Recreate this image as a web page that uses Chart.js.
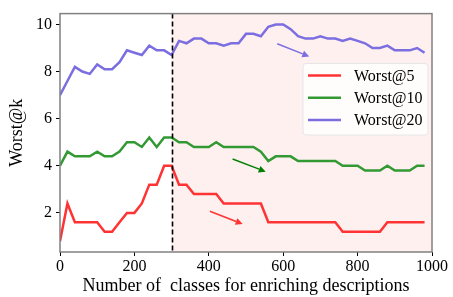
<!DOCTYPE html>
<html><head><meta charset="utf-8">
<script src="https://cdn.jsdelivr.net/npm/chart.js@4.4.0/dist/chart.umd.min.js"></script>
<style>html,body{margin:0;padding:0;background:#fff}#wrap{width:453px;height:297px}</style>
</head><body><div id="wrap"><canvas id="c" width="453" height="297"></canvas></div>
<script>
const xs = [0,20,40,60,80,100,120,140,160,180,200,220,240,260,280,300,320,340,360,380,400,420,440,460,480,500,520,540,560,580,600,620,640,660,680,700,720,740,760,780,800,820,840,860,880,900,920,940,960,980];
const worst5 = [0.8,2.4,1.6,1.6,1.6,1.6,1.2,1.2,1.6,2.0,2.0,2.4,3.2,3.2,4.0,4.0,3.2,3.2,2.8,2.8,2.8,2.8,2.4,2.4,2.4,2.4,2.4,2.4,1.6,1.6,1.6,1.6,1.6,1.6,1.6,1.6,1.6,1.6,1.2,1.2,1.2,1.2,1.2,1.2,1.6,1.6,1.6,1.6,1.6,1.6];
const worst10 = [4.0,4.6,4.4,4.4,4.4,4.6,4.4,4.4,4.6,5.0,5.0,4.8,5.2,4.8,5.2,5.2,5.0,5.0,4.8,4.8,4.8,5.0,4.8,4.8,4.8,4.8,4.8,4.6,4.2,4.4,4.4,4.4,4.2,4.2,4.2,4.2,4.2,4.2,4.0,4.0,4.0,3.8,3.8,3.8,4.0,3.8,3.8,3.8,4.0,4.0];
const worst20 = [7.0,7.6,8.2,8.0,7.9,8.3,8.1,8.1,8.4,8.9,8.8,8.7,9.1,8.9,8.9,8.7,9.3,9.2,9.4,9.4,9.2,9.2,9.1,9.2,9.2,9.6,9.6,9.5,9.9,10.0,10.0,9.8,9.5,9.4,9.4,9.5,9.4,9.4,9.3,9.4,9.3,9.2,9.0,9.0,9.1,8.9,8.9,8.9,9.0,8.8];
const seriesLabels = ['Worst@5','Worst@10','Worst@20'];
const seriesColors = ['#ff3333','#339933','#7b6ee0'];
const xTicks = [0,200,400,600,800,1000];
const xTickLabels = ['0','200','400','600','800','1000'];
const yTicks = [2,4,6,8,10];
const yTickLabels = ['2','4','6','8','10'];
const splitX = 300;
// arrows: [x0,y0,x1,y1] in data units
const arrows = [[403,2.07,491,1.53],[464,4.29,553,3.75],[584,9.18,670,8.64]];

const FONT = '"Liberation Serif", "Times New Roman", serif';
const allSeries = [worst5, worst10, worst20];

const overlay = {
  id: 'overlay',
  beforeDatasetsDraw(chart) {
    const {ctx, chartArea: a, scales: {x}} = chart;
    ctx.save();
    const sx = x.getPixelForValue(splitX);
    ctx.fillStyle = '#fff0f0';
    ctx.fillRect(sx, a.top, a.right - sx, a.bottom - a.top);
    ctx.restore();
  },
  afterDatasetsDraw(chart) {
    const {ctx, chartArea: a, scales: {x, y}} = chart;
    ctx.save();
    const sx = Math.round(x.getPixelForValue(splitX)) + 0.5;
    ctx.strokeStyle = '#000'; ctx.lineWidth = 1.6; ctx.setLineDash([5, 3]);
    ctx.beginPath(); ctx.moveTo(sx, a.top); ctx.lineTo(sx, a.bottom); ctx.stroke();
    ctx.setLineDash([]);
    arrows.forEach((ar, i) => {
      const x0 = x.getPixelForValue(ar[0]), y0 = y.getPixelForValue(ar[1]);
      const x1 = x.getPixelForValue(ar[2]), y1 = y.getPixelForValue(ar[3]);
      const c = i === 1 ? '#008000' : seriesColors[i];
      ctx.strokeStyle = c; ctx.fillStyle = c; ctx.lineWidth = 1.5;
      const ang = Math.atan2(y1 - y0, x1 - x0);
      const hl = 7, hw = 3.5;
      const bx = x1 - hl * Math.cos(ang), by = y1 - hl * Math.sin(ang);
      ctx.beginPath(); ctx.moveTo(x0, y0); ctx.lineTo(bx, by); ctx.stroke();
      ctx.beginPath();
      ctx.moveTo(x1, y1);
      ctx.lineTo(bx + hw * Math.sin(ang), by - hw * Math.cos(ang));
      ctx.lineTo(bx - hw * Math.sin(ang), by + hw * Math.cos(ang));
      ctx.closePath(); ctx.fill();
    });
    ctx.strokeStyle = '#808080'; ctx.lineWidth = 1.5;
    ctx.strokeRect(a.left, a.top, a.right - a.left, a.bottom - a.top);
    const lx = 303, ly = 63.5, lw = 125, lh = 71.5;
    ctx.fillStyle = 'rgba(255,255,255,0.8)';
    ctx.strokeStyle = '#e6e6e6'; ctx.lineWidth = 1;
    ctx.beginPath();
    if (ctx.roundRect) ctx.roundRect(lx, ly, lw, lh, 3); else ctx.rect(lx, ly, lw, lh);
    ctx.fill(); ctx.stroke();
    ctx.font = '16px ' + FONT; ctx.textBaseline = 'middle'; ctx.textAlign = 'left';
    seriesLabels.forEach((lab, i) => {
      const yy = 75.5 + i * 22.3;
      ctx.strokeStyle = seriesColors[i]; ctx.lineWidth = 2.5;
      ctx.beginPath(); ctx.moveTo(308, yy); ctx.lineTo(341, yy); ctx.stroke();
      ctx.fillStyle = '#000';
      ctx.fillText(lab, 354, yy + 1);
    });
    ctx.restore();
  }
};

new Chart(document.getElementById('c'), {
  type: 'line',
  data: {
    datasets: allSeries.map((vals, i) => ({
      label: seriesLabels[i],
      data: xs.map((xv, j) => ({x: xv, y: vals[j]})),
      borderColor: seriesColors[i],
      borderWidth: 2.5,
      pointRadius: 0,
      tension: 0,
      fill: false
    }))
  },
  options: {
    responsive: false,
    animation: false,
    devicePixelRatio: 1,
    layout: {padding: {top: 5, right: 21, left: 0, bottom: 0}},
    plugins: {legend: {display: false}, tooltip: {enabled: false}},
    scales: {
      x: {
        type: 'linear', min: 0, max: 1000,
        afterBuildTicks: s => { s.ticks = xTicks.map(v => ({value: v})); },
        afterFit: s => { s.height = 45; },
        ticks: {color: '#000', font: {family: FONT, size: 16}, padding: 1, maxRotation: 0, autoSkip: false,
          callback: (v) => xTickLabels[xTicks.indexOf(v)]},
        grid: {drawOnChartArea: false, tickLength: 4, tickColor: '#000', tickWidth: 1},
        border: {display: false},
        title: {display: true, text: 'Number of  classes for enriching descriptions', color: '#000', font: {family: FONT, size: 18}, padding: {top: 0, bottom: 0}}
      },
      y: {
        type: 'linear', min: 0.34, max: 10.46,
        afterBuildTicks: s => { s.ticks = yTicks.map(v => ({value: v})); },
        afterFit: s => { s.width = 60; },
        ticks: {color: '#000', font: {family: FONT, size: 16}, padding: 4, autoSkip: false,
          callback: (v) => yTickLabels[yTicks.indexOf(v)]},
        grid: {drawOnChartArea: false, tickLength: 4, tickColor: '#000', tickWidth: 1},
        border: {display: false},
        title: {display: true, text: 'Worst@k', color: '#000', font: {family: FONT, size: 18}, padding: {top: 6, bottom: 2}}
      }
    }
  },
  plugins: [overlay]
});
</script></body></html>
